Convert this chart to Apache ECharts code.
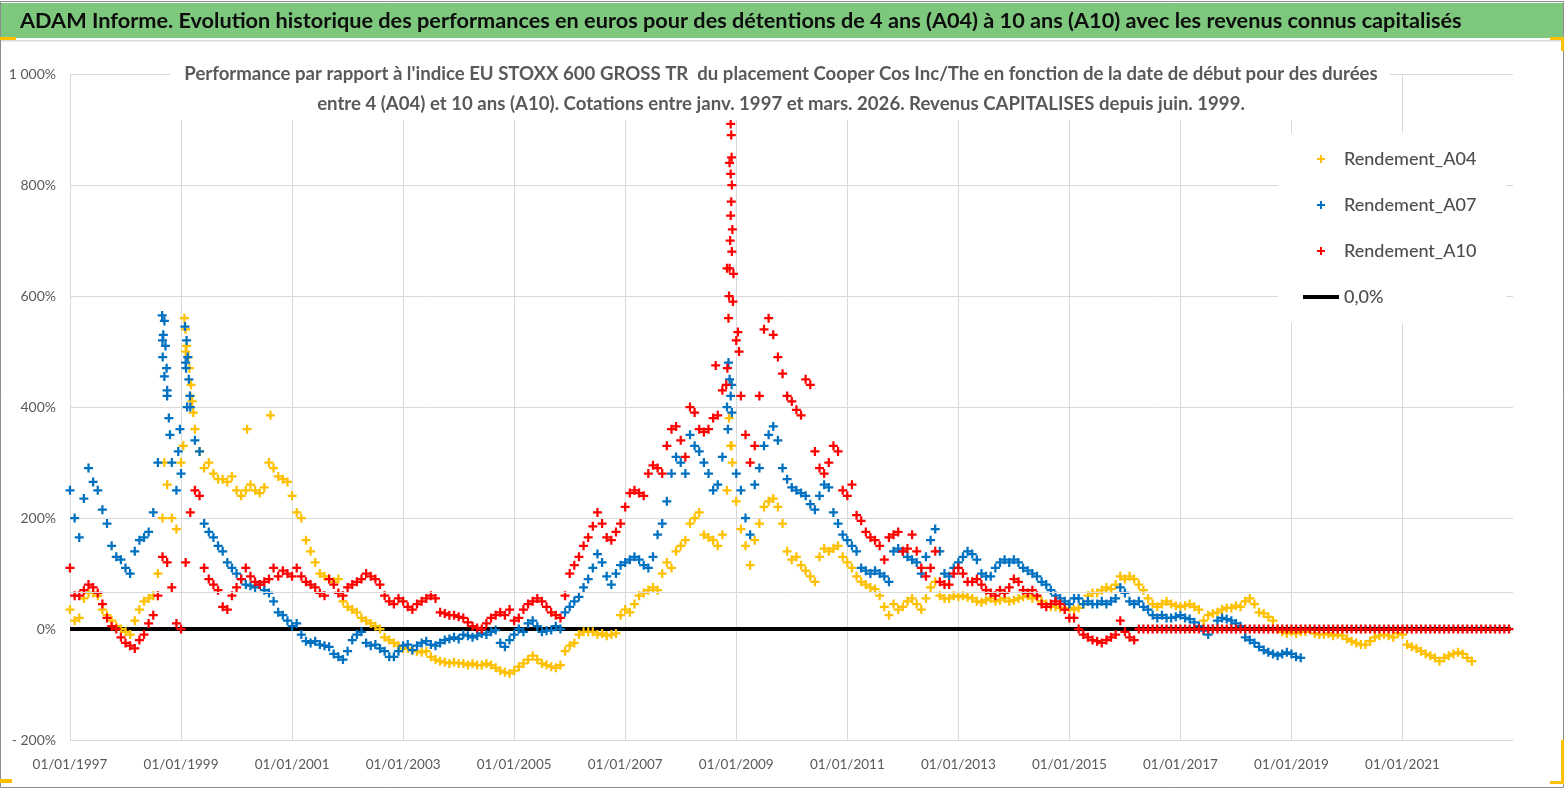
<!DOCTYPE html>
<html>
<head>
<meta charset="utf-8">
<script src="https://cdn.jsdelivr.net/npm/echarts@6/dist/echarts.min.js"></script>
<style>
  html, body { margin: 0; padding: 0; background: #fff; }
  #chart { width: 1567px; height: 790px; }
</style>
</head>
<body>
<div id="chart"></div>
<script>
// monthly values (%), first point = 01/01/1997
const startYear = 1997;
const a04 = [
  35, 15, 20, 55, 65, 65, 60, 35, 25, 15, 5, 0,
  -5, -10, 15, 35, 50, 55, 60, 100, 200, 260, 200, 180,
  300, 500, 420, 360, 320, 290, 300, 280, 270, 270, 265, 275,
  250, 240, 250, 260, 250, 245, 255, 300, 290, 275, 270, 265,
  240, 210, 200, 160, 140, 120, 100, 95, 90, 85, 90, 50,
  40, 35, 30, 20, 15, 10, 5, 0, -15, -20, -25, -30,
  -35, -35, -38, -40, -42, -40, -50, -55, -58, -60, -62, -60,
  -62, -62, -65, -62, -65, -65, -62, -65, -70, -75, -78, -80,
  -75, -68, -62, -55, -48, -55, -62, -65, -68, -70, -65, -40,
  -30, -25, -10, -5, -5, -5, -10, -8, -12, -10, -8, 25,
  35, 30, 45, 60, 65, 70, 75, 70, 100, 120, 110, 140,
  150, 160, 190, 200, 210, 170, 165, 160, 150, 170, 250, 330,
  230, 180, 150, 115, 160, 190, 220, 230, 235, 220, 190, 140,
  125, 130, 115, 105, 95, 85, 130, 145, 140, 145, 150, 130,
  120, 110, 95, 85, 80, 75, 72, 60, 40, 25, 45, 35,
  40, 50, 55, 45, 35, 55, 75, 85, 60, 55, 55, 60,
  58, 60, 57, 55, 50, 48, 52, 55, 50, 52, 55, 50,
  52, 55, 58, 60, 55, 58, 50, 45, 40, 40, 38, 35,
  38, 35, 38, 45, 60, 65, 65, 70, 75, 72, 80, 95,
  90, 95, 90, 80, 70, 55, 45, 40, 45, 50, 45, 42,
  40, 42, 45, 40, 35, 15, 25, 28, 30, 35, 38, 38,
  42, 40, 50, 55, 45, 30, 28, 22, 15, 0, -5, -8,
  -5, -8, -5, -5, 0, -8, -10, -10, -8, -12, -10, -12,
  -18, -22, -25, -28, -28, -22, -15, -12, -10, -12, -15, -8,
  -10, -28, -32, -35, -40, -45, -48, -52, -58, -52, -48, -45,
  -42, -45, -52, -58
];
const a07 = [
  250, 200, 165, 235, 290, 265, 250, 215, 190, 150, 130, 125,
  110, 100, 140, 160, 165, 175, 210, 300, 520, 430, 300, 250,
  280, 480, 400, 340, 320, 190, 175, 165, 150, 140, 120, 110,
  100, 90, 80, 78, 75, 80, 70, 65, 50, 30, 25, 15,
  5, 10, -10, -22, -25, -22, -28, -30, -32, -45, -50, -55,
  -40, -20, -10, -5, -25, -30, -28, -35, -40, -50, -50, -40,
  -30, -28, -38, -30, -25, -22, -28, -30, -25, -20, -18, -15,
  -18, -10, -12, -15, -12, -8, -10, -5, -2, -25, -32, -20,
  -10, 0, -5, 10, 15, 5, -5, -3, -2, 5, 0, 30,
  40, 50, 58, 75, 90, 110, 135, 120, 95, 80, 100, 115,
  120, 125, 130, 125, 115, 110, 130, 170, 190, 230, 280, 310,
  300, 280, 350, 330, 320, 300, 280, 250, 260, 310, 400, 440,
  280, 250, 200, 170, 260, 290, 330, 350, 365, 340, 290, 270,
  255, 250, 245, 240, 225, 215, 240, 260, 255, 210, 190, 170,
  160, 150, 140, 110, 105, 100, 105, 100, 95, 85, 140, 145,
  140, 130, 125, 120, 100, 130, 160, 180, 140, 100, 95, 110,
  120, 130, 140, 135, 125, 100, 95, 95, 110, 120, 125, 120,
  125, 120, 110, 105, 100, 95, 85, 80, 70, 60, 55, 50,
  45, 55, 55, 45, 50, 45, 45, 50, 45, 50, 55, 75,
  65, 50, 45, 50, 40, 35, 25, 20, 25, 20, 20, 22,
  25, 20, 18, 12, 5, -3, -10, 0, 15, 20, 18, 15,
  10, 5, -15, -20, -25, -32, -38, -42, -45, -48, -45, -42,
  -45, -50, -52
];
const a10 = [
  110, 60, 60, 70, 80, 75, 65, 45, 20, 5, 0, -15,
  -25, -30, -35, -20, -10, 10, 25, 60, 130, 120, 75, 10,
  0, 120, 210, 250, 240, 110, 90, 80, 70, 40, 35, 60,
  75, 90, 110, 95, 85, 80, 85, 90, 110, 95, 105, 100,
  95, 110, 95, 85, 80, 75, 65, 60, 90, 80, 65, 60,
  75, 80, 85, 90, 100, 95, 90, 80, 60, 50, 45, 55,
  50, 40, 35, 45, 50, 55, 60, 55, 30, 28, 25, 25,
  22, 20, 12, 5, 2, 0, 10, 20, 25, 30, 25, 35,
  15, 20, 35, 45, 50, 55, 50, 40, 30, 25, 20, 60,
  100, 115, 130, 150, 165, 185, 210, 190, 165, 160, 175, 190,
  220, 245, 250, 245, 240, 280, 295, 290, 280, 330, 360, 365,
  340, 310, 400, 390, 360, 355, 360, 380, 385, 430, 650, 850,
  520, 420, 350, 300, 330, 420, 540, 560, 530, 490, 460, 420,
  410, 395, 385, 450, 440, 320, 290, 280, 300, 330, 320, 250,
  240, 260, 205, 195, 175, 165, 160, 150, 125, 165, 170, 175,
  140, 145, 170, 140, 110, 95, 110, 140, 85, 80, 80, 100,
  110, 100, 85, 85, 90, 80, 70, 65, 60, 70, 65, 75,
  90, 85, 70, 65, 70, 60, 45, 40, 45, 50, 45, 35,
  20, 20, 0, -10, -15, -20, -22, -25, -20, -15, -10, 15,
  -5, -15, -20,
  0, 0, 0, 0, 0, 0, 0, 0, 0,
  0, 0, 0, 0, 0, 0, 0, 0, 0, 0, 0, 0,
  0, 0, 0, 0, 0, 0, 0, 0, 0, 0, 0, 0,
  0, 0, 0, 0, 0, 0, 0, 0, 0, 0, 0, 0,
  0, 0, 0, 0, 0, 0, 0, 0, 0, 0, 0, 0,
  0, 0, 0, 0, 0, 0, 0, 0, 0, 0, 0, 0,
  0, 0, 0, 0, 0, 0, 0, 0, 0, 0, 0, 0
];
// isolated daily points around the spikes: [date in years, %]
const a04Extra = [
  [1999.06, 560], [1999.08, 540], [1999.10, 510], [1999.13, 490], [1999.15, 470],
  [1999.18, 440], [1999.20, 410], [1999.22, 390], [1999.04, 330], [1998.70, 300],
  [2000.19, 360], [2000.61, 385], [2008.87, 380], [2008.90, 330], [2008.93, 300]
];
const a07Extra = [
  [1998.66, 565], [1998.70, 555], [1998.68, 530], [1998.72, 510], [1998.67, 490],
  [1998.74, 470], [1998.70, 455], [1998.75, 420], [1998.78, 380], [1998.80, 350],
  [1999.07, 545], [1999.10, 520], [1999.12, 490], [1999.09, 470], [1999.14, 450],
  [1999.16, 420], [1999.11, 400], [1998.98, 360], [1998.95, 320],
  [2008.86, 480], [2008.88, 450], [2008.90, 420], [2008.92, 390], [2008.85, 360]
];
const a10Extra = [
  [2008.90, 910], [2008.91, 890], [2008.88, 840], [2008.90, 820], [2008.92, 800],
  [2008.91, 770], [2008.90, 745], [2008.93, 720], [2008.89, 700], [2008.92, 680],
  [2008.88, 650], [2008.95, 640], [2008.87, 600], [2008.94, 590], [2008.86, 560],
  [2009.03, 535], [2009.05, 500], [2008.84, 470], [2008.82, 440], [2008.63, 475]
];
const zeroDates = [1997, 2022.95];
const zeroValues = [0, 0];
const refLevel = 66;

const seriesNames = ['Rendement_A04', 'Rendement_A07', 'Rendement_A10', '0,0%'];
const colors = ['#FFC000', '#0070C0', '#FF0000', '#000000'];

const mainTitle = 'ADAM Informe. Evolution historique des performances en euros pour des détentions de 4 ans (A04) à 10 ans (A10) avec les revenus connus capitalisés';
const subTitle = "Performance par rapport à l'indice EU STOXX 600 GROSS TR  du placement Cooper Cos Inc/The en fonction de la date de début pour des durées\nentre 4 (A04) et 10 ans (A10). Cotations entre janv. 1997 et mars. 2026. Revenus CAPITALISES depuis juin. 1999.";

const plus = 'path://M3,0H5V3H8V5H5V8H3V5H0V3H3Z';
const FONT = 'Lato, "Liberation Sans", sans-serif';

function monthly(values) {
  return values.map((v, i) => [startYear + i / 12, v]);
}

function pct(v) {
  const a = Math.abs(v);
  const s = a >= 1000 ? Math.floor(a / 1000) + ' ' + String(a % 1000).padStart(3, '0') : String(a);
  return (v < 0 ? '- ' : '') + s + '%';
}

const chart = echarts.init(document.getElementById('chart'));

function scatter(name, color, values, extra) {
  return {
    name: name,
    type: 'scatter',
    symbol: plus,
    symbolSize: 9,
    itemStyle: { color: color, opacity: 1 },
    data: monthly(values).concat(extra),
    z: 3,
    silent: true
  };
}

const option = {
  animation: false,
  textStyle: { fontFamily: FONT },
  graphic: [
    { type: 'rect', z: 0, shape: { x: 0.5, y: 1.5, width: 1563, height: 786 },
      style: { fill: 'none', stroke: '#8c8c8c', lineWidth: 1 } },
    { type: 'rect', z: 0, shape: { x: 1, y: 3, width: 1562, height: 35 },
      style: { fill: '#7ec87e' } },
    { type: 'rect', z: 0, shape: { x: 1, y: 40, width: 1562, height: 1.5 },
      style: { fill: '#d9d9d9' } },
    { type: 'text', z: 5, x: 20, y: 21,
      style: { text: mainTitle, fill: '#0d0d0d', font: 'bold 21.7px ' + FONT, textVerticalAlign: 'middle' } },
    { type: 'rect', z: 5, shape: { x: 170, y: 60, width: 1220, height: 60 },
      style: { fill: '#ffffff' } },
    { type: 'text', z: 6, x: 781, y: 89,
      style: { text: subTitle, fill: '#595959', font: 'bold 18.6px ' + FONT,
        textAlign: 'center', textVerticalAlign: 'middle', lineHeight: 30 } },
    { type: 'rect', z: 1, shape: { x: 0, y: 37, width: 16, height: 3 }, style: { fill: '#FFC000' } },
    { type: 'rect', z: 1, shape: { x: 1550, y: 37, width: 14, height: 3 }, style: { fill: '#FFC000' } },
    { type: 'rect', z: 1, shape: { x: 1561, y: 37, width: 3, height: 14 }, style: { fill: '#FFC000' } },
    { type: 'rect', z: 1, shape: { x: 0, y: 779, width: 12, height: 4 }, style: { fill: '#FFC000' } },
    { type: 'rect', z: 1, shape: { x: 1561, y: 740, width: 3, height: 44 }, style: { fill: '#FFC000' } },
    { type: 'rect', z: 1, shape: { x: 1550, y: 781, width: 14, height: 3 }, style: { fill: '#FFC000' } }
  ],
  legend: {
    orient: 'vertical',
    left: 1278, top: 133,
    padding: [15, 30, 15, 25],
    backgroundColor: '#ffffff',
    itemWidth: 36, itemHeight: 8,
    itemGap: 24,
    data: [
      { name: seriesNames[0] },
      { name: seriesNames[1] },
      { name: seriesNames[2] },
      { name: seriesNames[3], icon: 'path://M0,0H36V4H0Z' }
    ],
    textStyle: { fontFamily: FONT, fontSize: 18, fontWeight: 500, color: '#4d4d4d', lineHeight: 22 }
  },
  grid: { left: 70, right: 54, top: 74, bottom: 50, containLabel: false },
  xAxis: {
    type: 'value',
    min: 1997, max: 2022.99, interval: 2,
    axisLine: { show: true, onZero: false, lineStyle: { color: '#d9d9d9' } },
    axisTick: { show: false },
    splitLine: { show: true, showMaxLine: false, lineStyle: { color: '#d9d9d9', width: 1 } },
    axisLabel: {
      margin: 18, color: '#595959', fontFamily: FONT, fontSize: 13.5, showMaxLabel: false,
      formatter: v => (Number.isInteger(v) ? '01/01/' + v : '')
    }
  },
  yAxis: {
    type: 'value',
    min: -200, max: 1000, interval: 200,
    axisLine: { show: false },
    axisTick: { show: false },
    splitLine: { lineStyle: { color: '#d9d9d9', width: 1 } },
    axisLabel: { margin: 14, color: '#595959', fontFamily: FONT, fontSize: 14, formatter: pct }
  },
  series: [
    scatter(seriesNames[0], colors[0], a04, a04Extra),
    scatter(seriesNames[1], colors[1], a07, a07Extra),
    scatter(seriesNames[2], colors[2], a10, a10Extra),
    {
      name: seriesNames[3],
      type: 'line',
      symbol: 'none',
      z: 2,
      silent: true,
      lineStyle: { color: colors[3], width: 4 },
      itemStyle: { color: colors[3] },
      data: zeroDates.map((d, i) => [d, zeroValues[i]]),
      markLine: {
        silent: true, symbol: 'none', label: { show: false },
        lineStyle: { color: '#d9d9d9', width: 1, type: 'solid' },
        data: [{ yAxis: refLevel }]
      }
    }
  ]
};

chart.setOption(option);
</script>
</body>
</html>
